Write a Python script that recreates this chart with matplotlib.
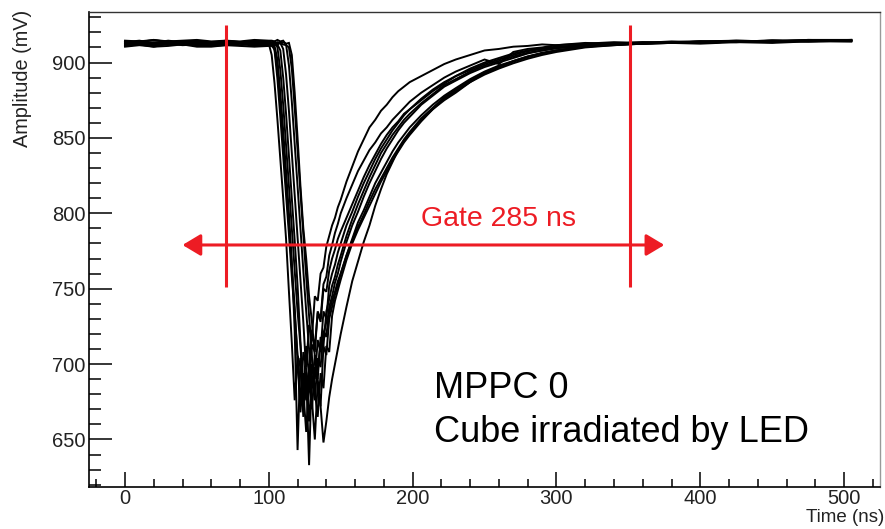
import matplotlib
matplotlib.use("Agg")
import matplotlib.pyplot as plt
from matplotlib.ticker import MultipleLocator

plt.rcParams["font.family"] = ["Liberation Sans", "DejaVu Sans"]

# sample times (ns), shared by all waveforms
time_ns = [0, 10, 20, 30, 40, 50, 60, 70, 80, 90, 100,
           102, 104, 106, 108, 110, 112, 114, 116, 118, 120, 122, 124, 126,
           128, 130, 132, 134, 136, 138, 140, 142, 144, 146, 148, 150,
           154, 158, 162, 166, 170, 174, 178, 182, 186, 190, 194, 198,
           206, 214, 222, 230, 240, 250, 260, 270, 280, 290, 300,
           320, 340, 360, 380, 400, 425, 450, 475, 505]

# amplitudes (mV), one list per waveform
trace_a = [912, 913, 911.5, 912.5, 913, 911.5, 912.5, 912, 913, 911.5, 912.5,
           905, 886, 862, 836, 810, 783, 748, 714, 676, 705, 672, 708, 698,
           726, 718, 745, 742, 760, 764, 778, 785, 792, 797, 804, 809,
           821, 831, 841, 849, 857, 862, 868, 872, 877, 881, 884, 887,
           891, 895, 899, 902, 905, 908, 909, 910.5, 911, 912, 911.5,
           913, 912.5, 913.5, 913, 914, 913.5, 914.5, 914, 914.5]
trace_b = [913.5, 914.5, 913, 914.5, 913.5, 914, 913, 914.5, 913.5, 914, 913.5,
           913, 908, 889, 864, 838, 812, 786, 758, 733, 706, 698, 665, 695,
           684, 713, 708, 735, 730, 753, 758, 772, 779, 787, 793, 800,
           810, 819, 828, 835, 842, 847, 853, 857, 862, 866, 870, 874,
           880, 885, 890, 894, 898, 902, 899, 907, 909, 910, 911.5,
           912.5, 913.5, 913, 914, 913.5, 914.5, 914, 915, 914.5]
trace_c = [911, 912, 910.5, 912.5, 911.5, 912, 911, 911.5, 912.5, 911, 911.5,
           912, 911, 902, 880, 855, 828, 800, 768, 722, 643, 704, 680, 712,
           692, 720, 712, 734, 728, 750, 748, 762, 770, 776, 783, 788,
           797, 806, 815, 824, 832, 839, 846, 852, 857, 861, 866, 869,
           876, 882, 887, 891, 896, 900, 903, 906, 908, 909.5, 910.5,
           911.5, 912, 912.5, 913, 912.5, 913.5, 913, 914, 914]
trace_d = [914, 913.5, 915, 913.5, 914, 914.5, 913.5, 914, 913.5, 914.5, 914,
           913.5, 914, 910, 895, 872, 845, 818, 790, 762, 735, 712, 680, 694,
           633, 700, 690, 716, 708, 735, 730, 752, 760, 766, 774, 780,
           792, 801, 811, 820, 828, 836, 843, 849, 855, 860, 865, 869,
           875, 881, 886, 891, 895, 899, 902, 905, 907.5, 909, 910,
           912, 912.5, 913.5, 913, 914, 914, 914.5, 914, 915]
trace_e = [912.5, 912, 913, 912, 912.5, 913, 912, 912.5, 913, 912, 912.5,
           912, 913, 912, 908, 890, 866, 838, 810, 782, 752, 715, 682, 655,
           690, 670, 698, 690, 718, 712, 735, 743, 752, 758, 766, 772,
           785, 796, 806, 815, 824, 832, 840, 846, 852, 857, 862, 866,
           873, 879, 885, 889, 894, 898, 901, 904, 906.5, 908, 909.5,
           911, 912, 912.5, 913.5, 913, 914, 913.5, 914.5, 914.5]
trace_f = [913, 913.5, 912.5, 913, 914, 912.5, 913, 913.5, 912.5, 913, 913.5,
           913, 912.5, 913.5, 913, 909, 892, 868, 840, 812, 784, 756, 728, 695,
           662, 692, 676, 704, 698, 722, 718, 738, 745, 754, 760, 768,
           781, 792, 801, 811, 820, 828, 836, 843, 849, 855, 860, 864,
           872, 878, 884, 888, 893, 897, 900, 903, 906, 908, 909.5,
           911.5, 912.5, 913, 913.5, 914, 913.5, 914.5, 914.5, 915]
trace_g = [910.5, 911.5, 910.5, 911, 912, 910.5, 910.5, 911.5, 911, 910.5, 911,
           911, 909, 895, 872, 846, 818, 792, 765, 738, 702, 668, 694, 676,
           698, 684, 706, 696, 714, 720, 728, 734, 742, 748, 755, 760,
           772, 783, 794, 802, 811, 820, 827, 834, 841, 847, 852, 857,
           865, 872, 878, 883, 889, 894, 898, 901, 904, 906.5, 908,
           910.5, 911.5, 912.5, 913, 913, 914, 913.5, 914.5, 914]
trace_h = [914.5, 914, 915, 914, 914.5, 915, 914, 914.5, 914, 915, 914.5,
           914.5, 914, 915, 914, 914.5, 912, 898, 874, 846, 818, 790, 762, 735,
           710, 676, 650, 688, 672, 712, 706, 730, 738, 746, 752, 760,
           772, 782, 791, 799, 808, 816, 823, 830, 837, 843, 849, 854,
           863, 870, 877, 882, 888, 893, 897, 900.5, 903.5, 906, 908,
           910.5, 912, 913, 913.5, 914, 914.5, 914, 915, 915]
trace_i = [912, 912.5, 911.5, 912, 913, 911.5, 912, 912.5, 911.5, 912.5, 912,
           912.5, 911.5, 912, 913, 912, 911.5, 910, 896, 870, 842, 814, 786, 758,
           732, 705, 682, 665, 694, 684, 712, 708, 732, 742, 749, 756,
           769, 780, 789, 797, 805, 813, 821, 828, 835, 841, 847, 852,
           861, 869, 876, 881, 887, 892, 896, 899.5, 902.5, 905, 907,
           910, 911.5, 912.5, 913, 913.5, 914, 914.5, 914, 914.5]
trace_j = [913, 912.5, 913.5, 913, 912, 913, 913.5, 912.5, 913, 913.5, 912.5,
           913, 913.5, 912.5, 913, 913.5, 912.5, 913, 905, 880, 850, 818, 790, 770,
           745, 728, 705, 690, 672, 648, 662, 678, 690, 700, 710, 720,
           738, 755, 768, 781, 792, 805, 816, 826, 834, 842, 848, 853,
           862, 869, 875, 880, 887, 893, 897, 901, 904, 906, 908,
           910.5, 912, 912.5, 913.5, 913, 914, 914.5, 914.5, 914.5]

traces = [trace_a, trace_b, trace_c, trace_d, trace_e,
          trace_f, trace_g, trace_h, trace_i, trace_j]

# gate annotation (ns / mV)
gate_start = 70
gate_end = 351
gate_line_top = 925
gate_line_bottom = 751
arrow_level = 779
arrow_left = 40
arrow_right = 375

RED = "#ed1c24"
LABEL = "#222222"

fig = plt.figure(figsize=(8.85, 5.29), dpi=100)
ax = fig.add_axes([0.1006, 0.0794, 0.8938, 0.8979])

for tr in traces:
    ax.plot(time_ns, tr, color="black", lw=1.4, solid_joinstyle="miter")

ax.set_xlim(-25, 525)
ax.set_ylim(618.5, 933.5)

ax.xaxis.set_major_locator(MultipleLocator(100))
ax.xaxis.set_minor_locator(MultipleLocator(20))
ax.yaxis.set_major_locator(MultipleLocator(50))
ax.yaxis.set_minor_locator(MultipleLocator(10))

ax.tick_params(axis="both", which="both", direction="in", colors="black",
               labelcolor=LABEL, labelsize=14.5, width=1.1)
ax.tick_params(axis="x", which="major", length=10.8, pad=1.5)
ax.tick_params(axis="x", which="minor", length=5.8)
ax.tick_params(axis="y", which="major", length=16.5, pad=2.5)
ax.tick_params(axis="y", which="minor", length=8.7)

ax.spines["left"].set_linewidth(1.2)
ax.spines["bottom"].set_linewidth(1.2)
ax.spines["top"].set_linewidth(1.0)
ax.spines["top"].set_color("#333333")
ax.spines["right"].set_linewidth(1.0)
ax.spines["right"].set_color("#999999")

fig.text(0.0255, 1 - 10 / 529, "Amplitude (mV)", rotation=90, ha="center",
         va="top", fontsize=14.3, color=LABEL)
fig.text(0.999, 1 - 518 / 529, "Time (ns)", ha="right", va="center",
         fontsize=13.5, color=LABEL)

# gate markers
for g in (gate_start, gate_end):
    ax.plot([g, g], [gate_line_bottom, gate_line_top], color=RED, lw=2.2,
            solid_capstyle="butt")
ax.annotate("", xy=(arrow_right, arrow_level), xytext=(arrow_left, arrow_level),
            arrowprops=dict(arrowstyle="<|-|>,head_length=0.5,head_width=0.3",
                            color=RED, lw=2.2, mutation_scale=22,
                            shrinkA=0, shrinkB=0))
ax.text(260, 796.5, "Gate 285 ns", color=RED, fontsize=20.5,
        ha="center", va="center")

ax.text(215, 677.5, "MPPC 0", fontsize=26, color="black", va="baseline")
ax.text(215, 648.5, "Cube irradiated by LED", fontsize=26, color="black",
        va="baseline")

fig.savefig("out.png", dpi=100)
